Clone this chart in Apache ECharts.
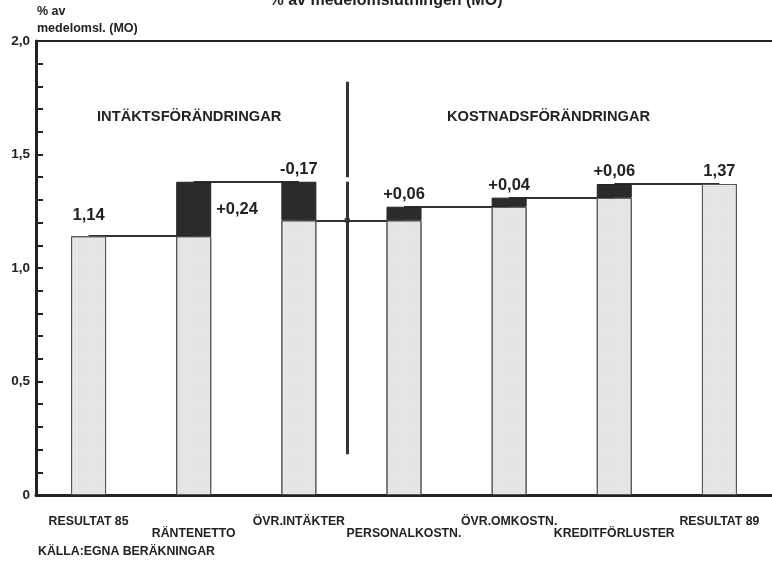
<!DOCTYPE html>
<html><head><meta charset="utf-8">
<script src="https://cdn.jsdelivr.net/npm/echarts@6/dist/echarts.min.js"></script>
<style>html,body{margin:0;padding:0;background:#fff}#c{width:772px;height:564px}</style>
</head><body><div id="c"></div>
<script>
const categories = ['RESULTAT 85','RÄNTENETTO','ÖVR.INTÄKTER','PERSONALKOSTN.','ÖVR.OMKOSTN.','KREDITFÖRLUSTER','RESULTAT 89'];
const baseValues = [1.14, 1.14, 1.21, 1.21, 1.27, 1.31, 1.37];
const changeValues = [null, 0.24, 0.17, 0.06, 0.04, 0.06, null];
const valueLabels = ['1,14', '+0,24', '-0,17', '+0,06', '+0,04', '+0,06', '1,37'];
const connectorLevels = [1.14, 1.38, 1.21, 1.27, 1.31, 1.37];
const dividerX = 2.46;
const dividerSpans = [[0.18, 1.38], [1.40, 1.82]];
const dividerDot = 1.21;
const yTicks = [0, 0.5, 1.0, 1.5, 2.0];
const sectionTitles = ['INTÄKTSFÖRÄNDRINGAR', 'KOSTNADSFÖRÄNDRINGAR'];

const FONT = '"Liberation Sans", Arial, sans-serif';
const chart = echarts.init(document.getElementById('c'));

const connectorData = connectorLevels.map((v, i) => ({coords: [[i, v], [i + 1, v]]}));
const dividerData = dividerSpans.map(s => ({coords: [[dividerX, s[0]], [dividerX, s[1]]]}));

chart.setOption({
  animation: false,
  title: {
    text: '% av medelomslutningen (MO)', left: 'center', top: -12,
    textStyle: {fontFamily: FONT, fontSize: 16, fontWeight: 'bold', color: '#222'}
  },
  grid: {left: 36, right: 0, top: 41, bottom: 69},
  xAxis: [
    {
      type: 'category', data: categories, position: 'bottom',
      axisLine: {onZero: false, lineStyle: {color: '#222', width: 3}},
      axisTick: {show: true, inside: true, length: 4, lineStyle: {color: '#222', width: 2}, alignWithLabel: true},
      axisLabel: {
        interval: 0, margin: 21, fontFamily: FONT, fontWeight: 'bold', fontSize: 12.3, color: '#222',
        formatter: (v, i) => i % 2 ? '{b|' + v + '}' : '{a|' + v + '}',
        rich: {
          a: {fontFamily: FONT, fontWeight: 'bold', fontSize: 12.3, color: '#222', padding: [0, 0, 0, 0]},
          b: {fontFamily: FONT, fontWeight: 'bold', fontSize: 12.3, color: '#222', padding: [12, 0, 0, 0]}
        }
      }
    },
    {
      type: 'value', min: -0.5, max: 6.5, show: false
    },
    {
      type: 'category', data: categories, position: 'top',
      axisLine: {show: true, onZero: false, lineStyle: {color: '#222', width: 2}},
      axisTick: {show: false}, axisLabel: {show: false}
    }
  ],
  yAxis: {
    type: 'value', min: 0, max: 2.0, interval: 0.1,
    axisLine: {show: true, onZero: false, lineStyle: {color: '#222', width: 3}},
    axisTick: {show: true, inside: true, length: 7, lineStyle: {color: '#222', width: 2}},
    splitLine: {show: false},
    axisLabel: {
      margin: 6, fontFamily: FONT, fontWeight: 'bold', fontSize: 13.5, color: '#222',
      formatter: v => {
        const r = Math.round(v * 10) / 10;
        if (!yTicks.some(t => Math.abs(t - r) < 1e-6)) return '';
        return r === 0 ? '0' : r.toFixed(1).replace('.', ',');
      }
    }
  },
  graphic: [
    {type: 'text', left: 37, top: 3, style: {text: '% av\nmedelomsl. (MO)', fontFamily: FONT, fontWeight: 'bold', fontSize: 12.5, lineHeight: 17, fill: '#222'}},
    {type: 'text', left: 38, top: 546, style: {text: 'KÄLLA:EGNA BERÄKNINGAR', fontFamily: FONT, fontWeight: 'bold', fontSize: 12.3, fill: '#222'}},
    {type: 'text', left: 97, top: 109, style: {text: sectionTitles[0], fontFamily: FONT, fontWeight: 'bold', fontSize: 14.7, fill: '#222'}},
    {type: 'text', left: 447, top: 109, style: {text: sectionTitles[1], fontFamily: FONT, fontWeight: 'bold', fontSize: 14.7, fill: '#222'}}
  ],
  series: [
    {
      type: 'lines', coordinateSystem: 'cartesian2d', xAxisIndex: 1, z: 1,
      lineStyle: {color: '#333', width: 2, opacity: 1},
      data: connectorData
    },
    {
      type: 'bar', stack: 's', barWidth: 35, z: 2,
      itemStyle: {
        color: '#e6e6e6', borderColor: '#555', borderWidth: 1,
        decal: {symbol: 'rect', symbolSize: 0.6, color: 'rgba(0,0,0,0.12)', dashArrayX: [1, 2], dashArrayY: [1, 2], rotation: 0}
      },
      data: baseValues.map((v, i) => ({
        value: v,
        label: (i === 0 || i === 6) ? {
          show: true, position: 'top', distance: i === 0 ? 12 : 4,
          formatter: valueLabels[i], fontFamily: FONT, fontWeight: 'bold', fontSize: 16.5, color: '#222'
        } : {show: false}
      }))
    },
    {
      type: 'bar', stack: 's', barWidth: 35, z: 2,
      itemStyle: {color: '#2b2b2b', borderColor: '#222', borderWidth: 1},
      data: changeValues.map((v, i) => v == null ? '-' : ({
        value: v,
        label: {
          show: true, position: i === 1 ? 'right' : 'top', distance: i === 1 ? 5 : 4,
          formatter: valueLabels[i], fontFamily: FONT, fontWeight: 'bold', fontSize: 16.5, color: '#222'
        }
      }))
    },
    {
      type: 'lines', coordinateSystem: 'cartesian2d', xAxisIndex: 1, z: 3,
      lineStyle: {color: '#333', width: 3, opacity: 1},
      data: dividerData
    },
    {
      type: 'scatter', xAxisIndex: 1, z: 4, symbolSize: 6, itemStyle: {color: '#333'},
      data: [[dividerX, dividerDot]]
    }
  ]
});
</script></body></html>
